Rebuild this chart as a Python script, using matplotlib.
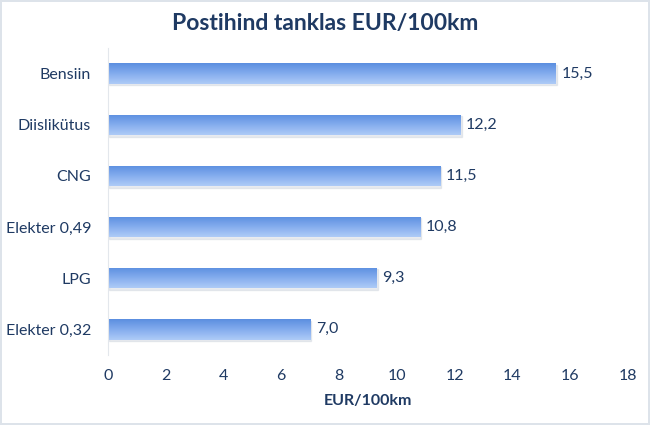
import numpy as np
import matplotlib.pyplot as plt
from matplotlib.colors import LinearSegmentedColormap

categories = ["Bensiin", "Diislikütus", "CNG", "Elekter 0,49", "LPG", "Elekter 0,32"]
values = [15.5, 12.2, 11.5, 10.8, 9.3, 7.0]
value_labels = ["15,5", "12,2", "11,5", "10,8", "9,3", "7,0"]
xticks = [0, 2, 4, 6, 8, 10, 12, 14, 16, 18]

text_col = "#1f3a63"
plt.rcParams['font.family'] = ['Lato', 'DejaVu Sans']

fig = plt.figure(figsize=(6.5, 4.25), dpi=100)
fig.patch.set_edgecolor("#dde3ea")
fig.patch.set_linewidth(1.5)
ax = fig.add_axes([0.166, 0.165, 0.8, 0.722])

y = np.arange(len(categories))
bars = ax.barh(y, values, height=0.4, color="none", edgecolor="none")

# vertical gradient on each bar, light on top
cmap = LinearSegmentedColormap.from_list("g", ["#aecbf7", "#84acee", "#5b8fe0"])
grad = np.linspace(0, 1, 64).reshape(-1, 1)
for i, b in enumerate(bars):
    x0, y0, w, h = b.get_x(), b.get_y(), b.get_width(), b.get_height()
    ax.add_patch(plt.Rectangle((x0 + 0.04, y0 + 0.03), w, h, color="#cdd3dc", alpha=0.45, zorder=1))
    im = ax.imshow(grad, cmap=cmap, aspect="auto", extent=[x0, x0 + w, y0, y0 + h],
                   origin="upper", zorder=2)
    im.set_clip_path(b)
    ax.text(x0 + w + 0.2, y0 + h / 2, value_labels[i], va="center",
            ha="left", fontsize=11.5, color=text_col)

ax.set_xlim(0, 18)
ax.set_ylim(len(categories) - 0.5, -0.5)
ax.set_yticks(y)
ax.set_yticklabels(categories, fontsize=11.5, color=text_col)
ax.set_xticks(xticks)
ax.set_xticklabels([str(t) for t in xticks], fontsize=11.5, color=text_col)
ax.tick_params(axis="both", length=0)
ax.tick_params(axis="y", pad=12)
ax.tick_params(axis="x", pad=10)
for s in ["top", "right", "bottom"]:
    ax.spines[s].set_visible(False)
ax.spines["left"].set_color("#e3e7ec")
ax.set_xlabel("EUR/100km", fontsize=11.5, fontweight="bold", color=text_col, labelpad=8)
fig.text(0.5, 0.945, "Postihind tanklas EUR/100km", ha="center", va="center",
         fontsize=16.5, fontweight="bold", color=text_col)

fig.savefig("out.png", dpi=100)
